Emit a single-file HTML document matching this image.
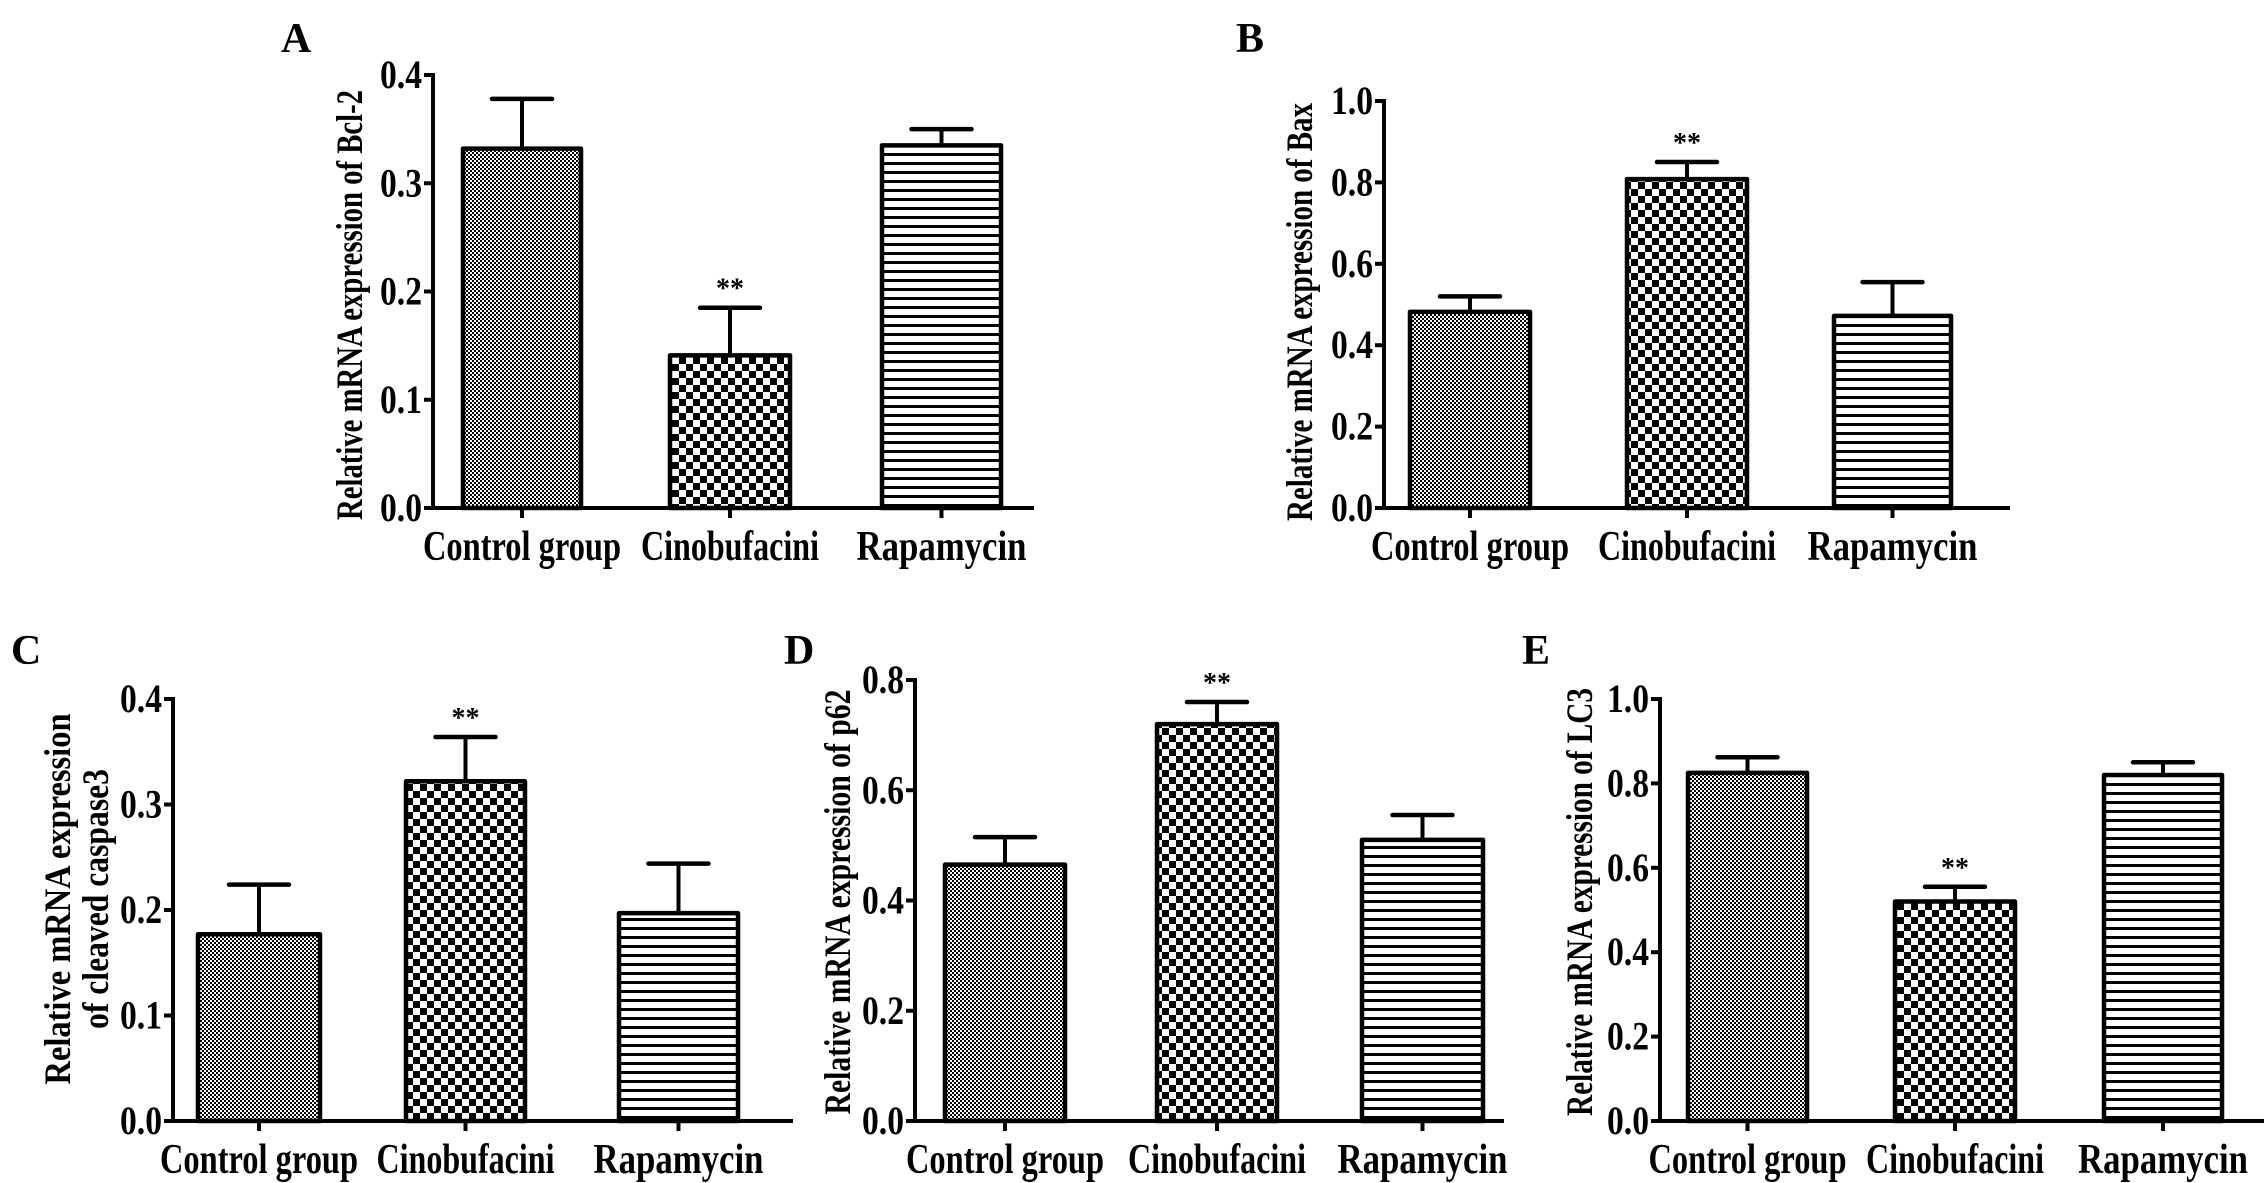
<!DOCTYPE html>
<html><head><meta charset="utf-8">
<style>
html,body{margin:0;padding:0;background:#fff;}
svg{display:block;}
text{font-family:"Liberation Serif",serif;font-weight:bold;fill:#000;}
</style></head>
<body>
<svg id="fig" width="2268" height="1183" viewBox="0 0 2268 1183" xmlns="http://www.w3.org/2000/svg">
<defs>
<pattern id="pFine" width="4" height="4" patternUnits="userSpaceOnUse">
<rect width="4" height="4" fill="#fff"/><rect width="2" height="2" fill="#000"/><rect x="2" y="2" width="2" height="2" fill="#000"/>
</pattern>
<pattern id="pCheck" width="14" height="14" patternUnits="userSpaceOnUse">
<rect width="14" height="14" fill="#fff"/><rect width="7" height="7" fill="#000"/><rect x="7" y="7" width="7" height="7" fill="#000"/>
</pattern>
<pattern id="pLines" width="9" height="9" patternUnits="userSpaceOnUse">
<rect width="9" height="9" fill="#fff"/><rect y="0" width="9" height="3" fill="#000"/>
</pattern>
</defs>
</svg>
<script>
const categories = ["Control group", "Cinobufacini", "Rapamycin"];
const valuesA = [0.332, 0.141, 0.335];
const errorsA = [0.378, 0.185, 0.350];
const valuesB = [0.482, 0.808, 0.472];
const errorsB = [0.520, 0.850, 0.555];
const valuesC = [0.177, 0.322, 0.197];
const errorsC = [0.224, 0.364, 0.244];
const valuesD = [0.465, 0.720, 0.510];
const errorsD = [0.515, 0.760, 0.555];
const valuesE = [0.825, 0.520, 0.820];
const errorsE = [0.862, 0.555, 0.850];
const ticksA = ["0.0","0.1","0.2","0.3","0.4"];
const ticksB = ["0.0","0.2","0.4","0.6","0.8","1.0"];
const ticksC = ["0.0","0.1","0.2","0.3","0.4"];
const ticksD = ["0.0","0.2","0.4","0.6","0.8"];
const ticksE = ["0.0","0.2","0.4","0.6","0.8","1.0"];
const significant = [false, true, false];

const NS = "http://www.w3.org/2000/svg";
const svg = document.getElementById("fig");
const fills = ["url(#pFine)", "url(#pCheck)", "url(#pLines)"];

function mk(tag, attrs, parent){
  const e = document.createElementNS(NS, tag);
  for (const k in attrs) e.setAttribute(k, attrs[k]);
  (parent||svg).appendChild(e);
  return e;
}

const panels = [
  {id:"a", letter:"A", lx:281, ly:52, ax:433, x1:1034, y0:508, yTop:75, yMax:0.4, ticks:ticksA, vals:valuesA, errs:errorsA, bars:[[463,581],[670,790],[882,1001]], title:["Relative mRNA expression of Bcl-2"], tx:[362], tcy:305, tlen:[430]},
  {id:"b", letter:"B", lx:1236, ly:52, ax:1384, x1:2010, y0:508, yTop:101, yMax:1.0, ticks:ticksB, vals:valuesB, errs:errorsB, bars:[[1410,1530],[1627,1747],[1834,1951]], title:["Relative mRNA expression of Bax"], tx:[1312], tcy:312, tlen:[418]},
  {id:"c", letter:"C", lx:11, ly:664, ax:173, x1:793, y0:1121, yTop:699, yMax:0.4, ticks:ticksC, vals:valuesC, errs:errorsC, bars:[[198,320],[406,525],[619,738]], title:["Relative mRNA expression","of cleaved caspase3"], tx:[70,108], tcy:899, tlen:[371,260]},
  {id:"d", letter:"D", lx:784, ly:664, ax:915, x1:1504, y0:1121, yTop:680, yMax:0.8, ticks:ticksD, vals:valuesD, errs:errorsD, bars:[[945,1065],[1157,1277],[1362,1483]], title:["Relative mRNA expression of p62"], tx:[850], tcy:902, tlen:[425]},
  {id:"e", letter:"E", lx:1522, ly:664, ax:1660, x1:2264, y0:1121, yTop:699, yMax:1.0, ticks:ticksE, vals:valuesE, errs:errorsE, bars:[[1688,1807],[1895,2015],[2104,2222]], title:["Relative mRNA expression of LC3"], tx:[1592], tcy:902, tlen:[428]}
];

panels.forEach(p => {
  const g = mk("g", {});
  
  
  const yScale = v => p.y0 - (v / p.yMax) * (p.y0 - p.yTop);

  const lt = mk("text", {x:p.lx, y:p.ly, "font-size":42}, g);
  lt.textContent = p.letter;
  
  

  p.vals.forEach((v, i) => {
    const [bx0, bx1] = p.bars[i];
    const yt = yScale(v);
    const cx = (bx0 + bx1) / 2;
    const ye = yScale(p.errs[i]);
    const eb = mk("g", {}, g);
    
    
    mk("line", {x1:cx, y1:yt, x2:cx, y2:ye, stroke:"#000", "stroke-width":4}, eb);
    mk("line", {x1:cx-30, y1:ye, x2:cx+30, y2:ye, stroke:"#000", "stroke-width":4.5, "stroke-linecap":"round"}, eb);
    const r = mk("rect", {x:bx0, y:yt, width:bx1-bx0, height:p.y0-yt, fill:fills[i], stroke:"#000", "stroke-width":4.5, "stroke-linejoin":"round"}, g);
    
    
    if (significant[i]) {
      const s = mk("text", {x:cx, y:ye-10, "font-size":28, "text-anchor":"middle"}, g);
      s.textContent = "**";
      
      
    }
    mk("line", {x1:cx, y1:p.y0, x2:cx, y2:p.y0+10, stroke:"#000", "stroke-width":4}, g);
    const cl = mk("text", {x:cx, y:p.y0+52, "font-size":42, "text-anchor":"middle", textLength:[198,178,170][i], lengthAdjust:"spacingAndGlyphs"}, g);
    cl.textContent = categories[i];
    
    
  });

  const ya = mk("line", {x1:p.ax, y1:p.yTop-2, x2:p.ax, y2:p.y0+2, stroke:"#000", "stroke-width":4}, g);
  
  
  const xa = mk("line", {x1:p.ax-2, y1:p.y0, x2:p.x1, y2:p.y0, stroke:"#000", "stroke-width":4}, g);
  
  

  const n = p.ticks.length - 1;
  p.ticks.forEach((t, k) => {
    const y = yScale(p.yMax * k / n);
    mk("line", {x1:p.ax-9, y1:y, x2:p.ax, y2:y, stroke:"#000", "stroke-width":4}, g);
    const tl = mk("text", {x:p.ax-11, y:y+13, "font-size":40, "text-anchor":"end", textLength:42, lengthAdjust:"spacingAndGlyphs"}, g);
    tl.textContent = t;
    
    
  });

  p.title.forEach((line, j) => {
    const tx = p.tx[j];
    const tt = mk("text", {x:tx, y:p.tcy, "font-size":37, "text-anchor":"middle", transform:`rotate(-90 ${tx} ${p.tcy})`, textLength:p.tlen[j], lengthAdjust:"spacingAndGlyphs"}, g);
    tt.textContent = line;
    
    
  });
});
</script>
</body></html>
